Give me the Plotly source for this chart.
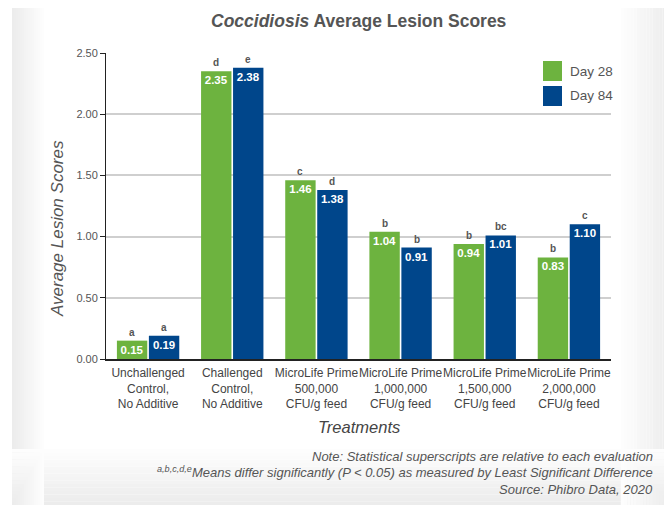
import plotly.graph_objects as go

categories = [
    "Unchallenged<br>Control,<br>No Additive",
    "Challenged<br>Control,<br>No Additive",
    "MicroLife Prime<br>500,000<br>CFU/g feed",
    "MicroLife Prime<br>1,000,000<br>CFU/g feed",
    "MicroLife Prime<br>1,500,000<br>CFU/g feed",
    "MicroLife Prime<br>2,000,000<br>CFU/g feed",
]
series_names = ["Day 28", "Day 84"]
day28 = [0.15, 2.35, 1.46, 1.04, 0.94, 0.83]
day84 = [0.19, 2.38, 1.38, 0.91, 1.01, 1.10]
letters28 = ["a", "d", "c", "b", "b", "b"]
letters84 = ["a", "e", "d", "b", "bc", "c"]
yticks = [0, 0.5, 1.0, 1.5, 2.0, 2.5]

GREEN = "#6db33f"
BLUE = "#00468b"
FONT = "Liberation Sans, Arial, Helvetica, sans-serif"

OFF = 8  # page offset of the figure in the browser
W, H = 672 - OFF, 505 - OFF
L, T = 106 - OFF, 53 - OFF
PW, PH = 505, 306
R, B = W - L - PW, H - T - PH


def px(x):
    return (x - OFF - L) / PW


def py(y):
    return (T + PH - (y - OFF)) / PH


fig = go.Figure()
for name, vals, col in [(series_names[0], day28, GREEN), (series_names[1], day84, BLUE)]:
    fig.add_trace(go.Bar(
        x=categories, y=vals, name=name, marker=dict(color=col, line=dict(width=0)),
        texttemplate="%{y:.2f}", textposition="inside", insidetextanchor="end", textangle=0,
        textfont=dict(color="white", size=11.5, family=FONT, weight="bold"),
        showlegend=False, cliponaxis=False,
    ))

annotations = []
# significance letters
for vals, lets, shift in [(day28, letters28, -16), (day84, letters84, 16)]:
    for c, v, t in zip(categories, vals, lets):
        annotations.append(dict(x=c, y=v, xref="x", yref="y", text=t, showarrow=False,
                                xshift=shift, yshift=1, yanchor="bottom", xanchor="center",
                                font=dict(size=10, color="#555", family=FONT, weight="bold")))

# title
annotations.append(dict(x=0.5, y=py(21), xref="paper", yref="paper", xanchor="center", yanchor="middle",
                        text="<b><i>Coccidiosis</i> Average Lesion Scores</b>", showarrow=False,
                        font=dict(size=17.5, color="#555", family=FONT)))
# axis titles
annotations.append(dict(x=px(57), y=py(229), xref="paper", yref="paper", xanchor="center", yanchor="middle",
                        text="<i>Average Lesion Scores</i>",
                        textangle=-90, showarrow=False, font=dict(size=17, color="#555", family=FONT)))
annotations.append(dict(x=0.5, y=py(427), xref="paper", yref="paper", xanchor="center", yanchor="middle",
                        text="<i>Treatments</i>",
                        showarrow=False, font=dict(size=16.5, color="#444", family=FONT)))
# footnotes
notes = [
    "Note: Statistical superscripts are relative to each evaluation",
    "<sup>a,b,c,d,e</sup>Means differ significantly (P &lt; 0.05) as measured by Least Significant Difference",
    "Source: Phibro Data, 2020",
]
for txt, yy in zip(notes, [456, 472, 489]):
    annotations.append(dict(x=px(655), y=py(yy), xref="paper", yref="paper", text="<i>" + txt + "</i>",
                            xanchor="right", yanchor="middle", showarrow=False,
                            font=dict(size=13, color="#555", family=FONT)))

shapes = []
# manual legend
for i, (name, col) in enumerate(zip(series_names, [GREEN, BLUE])):
    y0 = 61 + i * 25
    shapes.append(dict(type="rect", xref="paper", yref="paper", x0=px(543), x1=px(562),
                       y0=py(y0 + 20), y1=py(y0), fillcolor=col, line=dict(width=0)))
    annotations.append(dict(x=px(568), y=py(y0 + 10), xref="paper", yref="paper", text=name,
                            xanchor="left", yanchor="middle", showarrow=False,
                            font=dict(size=13.5, color="#555", family=FONT)))

# soft grey background edges
steps = 16
for k in range(steps):
    g = int(236 + (255 - 236) * k / steps)
    col = f"rgb({g},{g},{g})"
    shapes.append(dict(type="rect", xref="paper", yref="paper", layer="below",
                       x0=px(12 + k * 2), x1=px(12 + (k + 1) * 2), y0=py(505), y1=py(0),
                       fillcolor=col, line=dict(width=0)))
    shapes.append(dict(type="rect", xref="paper", yref="paper", layer="below",
                       x0=px(672 - (k + 1) * 3.2), x1=px(672 - k * 3.2), y0=py(505), y1=py(0),
                       fillcolor=col, line=dict(width=0)))
    shapes.append(dict(type="rect", xref="paper", yref="paper", layer="below",
                       x0=px(12), x1=px(672), y0=py(505 - k * 3.5), y1=py(505 - (k + 1) * 3.5),
                       fillcolor=col, line=dict(width=0)))

fig.update_layout(
    width=W, height=H, margin=dict(l=L, r=R, t=T, b=B, autoexpand=False),
    paper_bgcolor="white", plot_bgcolor="rgba(0,0,0,0)",
    barmode="group", bargap=0.24, bargroupgap=0.05,
    uniformtext=dict(minsize=9, mode="show"),
    font=dict(family=FONT, color="#444"),
    annotations=annotations, shapes=shapes,
    xaxis=dict(showline=True, linecolor="#222", linewidth=1.5, ticks="", showgrid=False,
               tickangle=0, tickfont=dict(size=12, color="#444"), ticklabelstandoff=2),
    yaxis=dict(range=[0, 2.5], tickvals=yticks, tickformat=".2f", showline=True, linecolor="#222",
               linewidth=1, ticks="outside", ticklen=5, tickcolor="#222", showgrid=True,
               gridcolor="#cfcfcf", gridwidth=1.5, zeroline=False,
               tickfont=dict(size=11, color="#555")),
)
fig.write_html("out.html")
